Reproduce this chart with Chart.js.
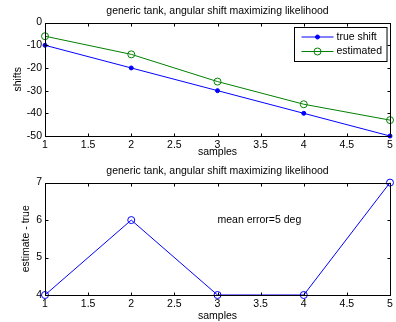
<!DOCTYPE html>
<html>
<head>
<meta charset="utf-8">
<script src="https://cdn.jsdelivr.net/npm/chart.js@4"></script>
<style>
body { margin: 0; background: #fff; }
#arriba { position: absolute; left: 0; top: 0; width: 396px; height: 160px; }
#abajo { position: absolute; left: 0; top: 160px; width: 396px; height: 162px; }
</style>
</head>
<body>
<div id="arriba"><canvas id="grafArriba"></canvas></div>
<div id="abajo"><canvas id="grafAbajo"></canvas></div>
<script>
const muestras = [1, 2, 3, 4, 5];
const trueShift = [-10, -20, -30, -40, -50];
const estimado = [-6, -14, -26, -36, -43];
const diferencia = [4, 6, 4, 4, 7];
const titulo = "generic tank, angular shift maximizing likelihood";
const textoError = "mean error=5 deg";
const posTextoError = [3, 6];

const fuente = "Arial, 'Liberation Sans', sans-serif";
Chart.defaults.font.family = fuente;
Chart.defaults.font.size = 10.5;
Chart.defaults.color = "#000";

const puntos = (ys) => muestras.map((x, i) => ({ x: x, y: ys[i] }));

// caja de ejes con marcas hacia adentro, estilo matlab
const marcoEjes = {
    id: "marcoEjes",
    afterDatasetsDraw(chart) {
        const { ctx, chartArea: a, scales } = chart;
        const L = Math.round(a.left) + 0.5, R = Math.round(a.right) + 0.5;
        const T = Math.round(a.top) + 0.5, B = Math.round(a.bottom) + 0.5;
        const largo = 3;
        ctx.save();
        ctx.strokeStyle = "#000";
        ctx.lineWidth = 1;
        ctx.beginPath();
        scales.x.ticks.forEach(t => {
            const px = Math.round(scales.x.getPixelForValue(t.value)) + 0.5;
            ctx.moveTo(px, B); ctx.lineTo(px, B - largo);
            ctx.moveTo(px, T); ctx.lineTo(px, T + largo);
        });
        scales.y.ticks.forEach(t => {
            const py = Math.round(scales.y.getPixelForValue(t.value)) + 0.5;
            ctx.moveTo(L, py); ctx.lineTo(L + largo, py);
            ctx.moveTo(R, py); ctx.lineTo(R - largo, py);
        });
        ctx.stroke();
        ctx.strokeRect(L, T, R - L, B - T);
        ctx.restore();
    }
};

const leyenda = {
    id: "leyenda",
    afterDraw(chart) {
        const { ctx, chartArea: a } = chart;
        const sets = chart.data.datasets;
        ctx.save();
        ctx.font = "10.5px " + fuente;
        const anchoTexto = Math.max(...sets.map(d => ctx.measureText(d.label).width));
        const w = 42 + anchoTexto + 5, h = 34;
        const x0 = Math.round(a.right - 3 - w) + 0.5, y0 = Math.round(a.top + 4) + 0.5;
        ctx.fillStyle = "#fff";
        ctx.fillRect(x0, y0, w, h);
        ctx.strokeStyle = "#000";
        ctx.lineWidth = 1;
        ctx.strokeRect(x0, y0, w, h);
        sets.forEach((d, i) => {
            const yy = y0 + 9.5 + i * 14.5;
            ctx.strokeStyle = d.borderColor;
            ctx.beginPath();
            ctx.moveTo(x0 + 7, yy); ctx.lineTo(x0 + 39, yy);
            ctx.stroke();
            ctx.beginPath();
            ctx.arc(x0 + 23, yy, d.pointRadius, 0, Math.PI * 2);
            if (d.pointBackgroundColor !== "transparent") {
                ctx.fillStyle = d.pointBackgroundColor;
                ctx.fill();
            }
            ctx.stroke();
            ctx.fillStyle = "#000";
            ctx.textBaseline = "middle";
            ctx.textAlign = "left";
            ctx.fillText(d.label, x0 + 42, yy);
        });
        ctx.restore();
    }
};

const textoMedia = {
    id: "textoMedia",
    afterDraw(chart) {
        const { ctx, scales } = chart;
        ctx.save();
        ctx.font = "10.5px " + fuente;
        ctx.fillStyle = "#000";
        ctx.textAlign = "left";
        ctx.textBaseline = "middle";
        ctx.fillText(textoError, scales.x.getPixelForValue(posTextoError[0]), scales.y.getPixelForValue(posTextoError[1]));
        ctx.restore();
    }
};

function opciones(yMin, yMax, paso, etiquetaY, padTituloY, altoX, padTituloX) {
    return {
        responsive: true,
        maintainAspectRatio: false,
        animation: false,
        layout: { padding: { left: 0, top: 0, right: 6, bottom: 0 } },
        plugins: {
            legend: { display: false },
            tooltip: { enabled: false },
            title: {
                display: true,
                fullSize: false,
                text: titulo,
                font: { size: 10.5, weight: "normal" },
                padding: { top: 5, bottom: 5 }
            }
        },
        scales: {
            x: {
                type: "linear",
                min: 1, max: 5,
                grid: { display: false, drawTicks: false },
                border: { display: false },
                ticks: { stepSize: 0.5, padding: 3, callback: (v) => String(v) },
                title: { display: true, text: "samples", font: { size: 10.5 }, padding: { top: 0, bottom: padTituloX } },
                afterFit: (s) => { s.height = altoX; }
            },
            y: {
                min: yMin, max: yMax,
                grid: { display: false, drawTicks: false },
                border: { display: false },
                ticks: { stepSize: paso, padding: 3, callback: (v) => String(v) },
                title: { display: true, text: etiquetaY, font: { size: 10.5 }, padding: { top: padTituloY, bottom: 0 } },
                afterFit: (s) => { s.width = 45; }
            }
        }
    };
}

new Chart(document.getElementById("grafArriba").getContext("2d"), {
    type: "line",
    data: {
        datasets: [{
            label: "true shift",
            data: puntos(trueShift),
            borderColor: "#0000ff",
            borderWidth: 1,
            pointRadius: 2,
            pointBackgroundColor: "#0000ff",
            pointBorderColor: "#0000ff",
            tension: 0,
            clip: false
        }, {
            label: "estimated",
            data: puntos(estimado),
            borderColor: "#008000",
            borderWidth: 1,
            pointRadius: 3.5,
            pointBackgroundColor: "transparent",
            pointBorderColor: "#008000",
            tension: 0,
            clip: false
        }]
    },
    options: opciones(-50, 0, 10, "shifts", 12, 24, 2),
    plugins: [marcoEjes, leyenda]
});

new Chart(document.getElementById("grafAbajo").getContext("2d"), {
    type: "line",
    data: {
        datasets: [{
            label: "estimate - true",
            data: puntos(diferencia),
            borderColor: "#0000ff",
            borderWidth: 1,
            pointRadius: 3.5,
            pointBackgroundColor: "transparent",
            pointBorderColor: "#0000ff",
            tension: 0,
            clip: false
        }]
    },
    options: opciones(4, 7, 1, "estimate - true", 20, 27, 0),
    plugins: [marcoEjes, textoMedia]
});
</script>
</body>
</html>
